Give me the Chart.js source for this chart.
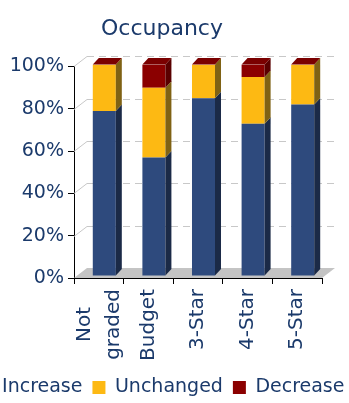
<!DOCTYPE html>
<html>
<head>
<meta charset="utf-8">
<script src="https://cdn.jsdelivr.net/npm/chart.js@4.4.1/dist/chart.umd.min.js"></script>
<style>
    html, body { margin: 0; padding: 0; background: #fff; overflow: hidden; width: 349px; height: 403px; position: relative; }
    #occChart { position: absolute; left: -40px; top: 0; }
</style>
</head>
<body>
<canvas id="occChart" width="404" height="403"></canvas>
<script>
// ---- Data ----
const categories = [['Not', 'graded'], 'Budget', '3-Star', '4-Star', '5-Star'];
const increase   = [78, 56, 84, 72, 81];
const unchanged  = [22, 33, 16, 22, 19];
const decrease   = [0, 11, 0, 6, 0];
const yTicks     = [0, 20, 40, 60, 80, 100];

// ---- Look ----
const NAVY = '#1b3a6b';
const FONT = "'DejaVu Sans', sans-serif";
const FLOOR_DX = 13, FLOOR_DY = -10;   // depth of the floor / back wall
const BAR_DX = 6, BAR_DY = -6.5;       // depth of each column
const SHIFT_X = 5.5, SHIFT_Y = -2;     // columns sit mid-depth
const X_FONT = { family: FONT, size: 20, lineHeight: 1.45 };

// ---- 3D columns, floor and back-wall grid ----
const depth3d = {
    id: 'depth3d',
    beforeDraw(chart) {
        // wrapped category labels: centre the block on the tick and each line in the block
        const ctx = chart.ctx;
        const lh = X_FONT.size * X_FONT.lineHeight;
        ctx.save();
        ctx.font = Chart.helpers.toFont(X_FONT).string;
        chart.scales.x.getLabelItems().forEach(item => {
            if (Array.isArray(item.label) && !item._centred) {
                const longest = Math.max(...item.label.map(t => ctx.measureText(t).width));
                item.options.translation[0] -= (item.label.length - 1) * lh / 2;
                item.options.translation[1] += longest / 2;
                item.options.textAlign = 'center';
                item._centred = true;
            }
        });
        ctx.restore();
    },
    beforeDatasetsDraw(chart) {
        const { ctx, chartArea: a, scales: { y } } = chart;
        ctx.save();
        ctx.fillStyle = '#c4c4c4';
        ctx.beginPath();
        ctx.moveTo(a.left, a.bottom);
        ctx.lineTo(a.right, a.bottom);
        ctx.lineTo(a.right + FLOOR_DX, a.bottom + FLOOR_DY);
        ctx.lineTo(a.left + FLOOR_DX, a.bottom + FLOOR_DY);
        ctx.closePath();
        ctx.fill();

        ctx.strokeStyle = '#c8c8c8';
        ctx.lineWidth = 1;
        yTicks.forEach(v => {
            if (v === 0) return;
            const py = Math.round(y.getPixelForValue(v)) + 0.5;
            ctx.setLineDash([]);
            ctx.beginPath();
            ctx.moveTo(a.left, py);
            ctx.lineTo(a.left + FLOOR_DX, py + FLOOR_DY);
            ctx.stroke();
            ctx.setLineDash([7, 5]);
            ctx.beginPath();
            ctx.moveTo(a.left + FLOOR_DX, py + FLOOR_DY);
            ctx.lineTo(a.right + FLOOR_DX, py + FLOOR_DY);
            ctx.stroke();
        });
        ctx.restore();

        ctx.save();
        ctx.translate(SHIFT_X, SHIFT_Y);
    },
    afterDatasetsDraw(chart) {
        const ctx = chart.ctx;
        const sets = chart.data.datasets;
        sets.forEach((ds, i) => {
            chart.getDatasetMeta(i).data.forEach(bar => {
                const { x, y, base, width } = bar.getProps(['x', 'y', 'base', 'width'], true);
                const r = x + width / 2;
                ctx.fillStyle = ds.sideColor;
                ctx.beginPath();
                ctx.moveTo(r, y);
                ctx.lineTo(r + BAR_DX, y + BAR_DY);
                ctx.lineTo(r + BAR_DX, base + BAR_DY);
                ctx.lineTo(r, base);
                ctx.closePath();
                ctx.fill();
            });
        });
        // top cap of every stack
        const top = sets[sets.length - 1];
        chart.getDatasetMeta(sets.length - 1).data.forEach(bar => {
            const { x, y, width } = bar.getProps(['x', 'y', 'width'], true);
            const l = x - width / 2, r = x + width / 2;
            ctx.fillStyle = top.capColor;
            ctx.beginPath();
            ctx.moveTo(l, y);
            ctx.lineTo(r, y);
            ctx.lineTo(r + BAR_DX, y + BAR_DY);
            ctx.lineTo(l + BAR_DX, y + BAR_DY);
            ctx.closePath();
            ctx.fill();
        });
        ctx.restore();
    }
};

const barOpts = { barPercentage: 0.464, categoryPercentage: 1, borderWidth: 0 };

new Chart(document.getElementById('occChart'), {
    type: 'bar',
    data: {
        labels: categories,
        datasets: [
            { label: 'Increase',  data: increase,  backgroundColor: '#2e4a7d', sideColor: '#1b2a47', ...barOpts },
            { label: 'Unchanged', data: unchanged, backgroundColor: '#fdb913', sideColor: '#7f6214', ...barOpts },
            { label: 'Decrease',  data: decrease,  backgroundColor: '#8b0000', sideColor: '#5a0000', capColor: '#7a0000', ...barOpts },
        ]
    },
    options: {
        responsive: false,
        animation: false,
        devicePixelRatio: 1,
        layout: { padding: { top: 0, bottom: -4, left: 0, right: 0 } },
        plugins: {
            title: {
                display: true,
                text: 'Occupancy',
                color: NAVY,
                font: { family: FONT, size: 22, weight: 'normal', lineHeight: 1.2 },
                padding: { top: 16, bottom: 24 },
            },
            legend: {
                position: 'bottom',
                labels: {
                    boxWidth: 13,
                    boxHeight: 13,
                    padding: 10,
                    color: NAVY,
                    font: { family: FONT, size: 19 },
                }
            },
            tooltip: { enabled: false },
        },
        scales: {
            x: {
                stacked: true,
                grid: { drawOnChartArea: false, drawTicks: true, tickLength: 6, color: '#000', offset: true },
                border: { display: true, color: '#000' },
                ticks: {
                    color: NAVY,
                    font: X_FONT,
                    maxRotation: 90,
                    minRotation: 90,
                    padding: 5,
                    autoSkip: false,
                },
                afterFit: s => { s.height = 90; },
            },
            y: {
                stacked: true,
                min: 0,
                max: 100,
                afterBuildTicks: s => { s.ticks = yTicks.map(v => ({ value: v })); },
                grid: { drawOnChartArea: false, tickLength: 6, color: '#000' },
                border: { display: true, color: '#000' },
                ticks: {
                    color: NAVY,
                    font: { family: FONT, size: 19 },
                    padding: 4,
                    callback: v => v + '%',
                },
                afterFit: s => { s.width = 114; },
            },
            y2: {
                position: 'right',
                grid: { display: false },
                border: { display: false },
                ticks: { display: false },
                afterFit: s => { s.width = 42; },
            }
        }
    },
    plugins: [depth3d]
});
</script>
</body>
</html>
